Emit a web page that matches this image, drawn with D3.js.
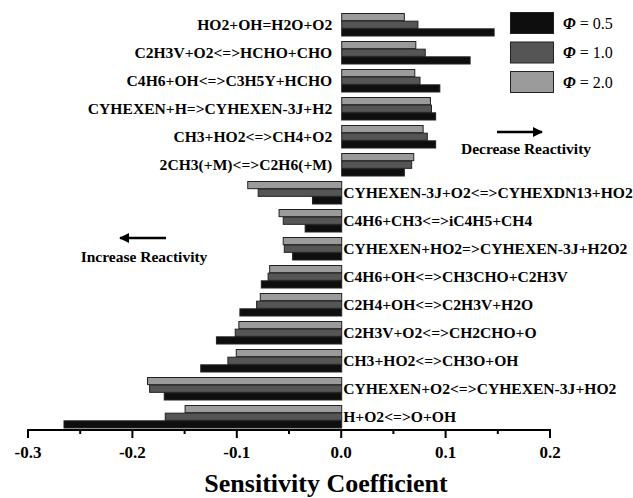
<!DOCTYPE html>
<html>
<head>
<meta charset="utf-8">
<script src="https://cdn.jsdelivr.net/npm/d3@7"></script>
<style>
  body{margin:0;background:#fff}
  svg{display:block}
  text{font-family:"Liberation Serif","Times New Roman",serif}
</style>
</head>
<body>
<svg id="chart" width="633" height="498"></svg>
<script>
// reactions, top to bottom
const reactions = [
  'HO2+OH=H2O+O2',
  'C2H3V+O2<=>HCHO+CHO',
  'C4H6+OH<=>C3H5Y+HCHO',
  'CYHEXEN+H=>CYHEXEN-3J+H2',
  'CH3+HO2<=>CH4+O2',
  '2CH3(+M)<=>C2H6(+M)',
  'CYHEXEN-3J+O2<=>CYHEXDN13+HO2',
  'C4H6+CH3<=>iC4H5+CH4',
  'CYHEXEN+HO2=>CYHEXEN-3J+H2O2',
  'C4H6+OH<=>CH3CHO+C2H3V',
  'C2H4+OH<=>C2H3V+H2O',
  'C2H3V+O2<=>CH2CHO+O',
  'CH3+HO2<=>CH3O+OH',
  'CYHEXEN+O2<=>CYHEXEN-3J+HO2',
  'H+O2<=>O+OH',
];
const phi05 = [0.146, 0.123, 0.094, 0.090, 0.090, 0.060, -0.028, -0.035, -0.047, -0.077, -0.0975, -0.120, -0.135, -0.170, -0.266];
const phi10 = [0.073, 0.080, 0.075, 0.086, 0.082, 0.067, -0.080, -0.056, -0.055, -0.0705, -0.0815, -0.102, -0.109, -0.184, -0.169];
const phi20 = [0.060, 0.071, 0.070, 0.085, 0.078, 0.069, -0.090, -0.060, -0.056, -0.069, -0.078, -0.0985, -0.101, -0.186, -0.150];
const seriesNames = ['0.5', '1.0', '2.0'];
const xTicks = [-0.3, -0.2, -0.1, 0.0, 0.1, 0.2];

const series = [
  { name: '2.0', values: phi20, fill: '#9b9b9b' },
  { name: '1.0', values: phi10, fill: '#555555' },
  { name: '0.5', values: phi05, fill: '#0e0e0e' },
];
const legendColors = { '0.5': '#0e0e0e', '1.0': '#555555', '2.0': '#9b9b9b' };

const svg = d3.select('#chart');
const axisY = 430;

const x = d3.scaleLinear().domain([-0.3, 0.2]).range([28, 550]);
const y = d3.scaleBand().domain(reactions).range([13, 428]).paddingInner(5 / 28).paddingOuter(0);
const ySub = d3.scaleBand().domain(series.map(s => s.name)).range([0, y.bandwidth()]);

// bars
const groups = svg.append('g').selectAll('g').data(reactions).enter().append('g')
  .attr('transform', d => `translate(0,${y(d)})`);

groups.each(function (r, i) {
  const gg = d3.select(this);
  series.forEach(s => {
    const v = s.values[i];
    gg.append('rect')
      .attr('x', Math.min(x(0), x(v)) + 0.5)
      .attr('y', ySub(s.name) + 0.5)
      .attr('width', Math.abs(x(v) - x(0)))
      .attr('height', ySub.bandwidth() - 0.5)
      .attr('fill', s.fill)
      .attr('stroke', '#222')
      .attr('stroke-width', 1);
  });
  // label: left of zero for positive, right of zero for negative
  const pos = phi05[i] > 0;
  gg.append('text')
    .attr('x', pos ? x(0) - 9 : x(0) + 2)
    .attr('y', y.bandwidth() / 2)
    .attr('dy', '0.35em')
    .attr('text-anchor', pos ? 'end' : 'start')
    .style('font-size', '15.6px').style('font-weight', 'bold')
    .text(r);
});

// x axis
const ax = svg.append('g');
ax.append('line')
  .attr('x1', x(-0.3)).attr('x2', x(0.2))
  .attr('y1', axisY).attr('y2', axisY)
  .attr('stroke', '#000').attr('stroke-width', 2);
d3.range(-0.3, 0.2001, 0.05).forEach(t => {
  const major = Math.abs(Math.round(t * 10) - t * 10) < 1e-6;
  ax.append('line')
    .attr('x1', x(t)).attr('x2', x(t))
    .attr('y1', axisY - 1).attr('y2', axisY + (major ? 8 : 4))
    .attr('stroke', '#000').attr('stroke-width', 2);
});
ax.selectAll('.tl').data(xTicks).enter().append('text')
  .attr('x', d => x(d)).attr('y', 458)
  .attr('text-anchor', 'middle')
  .style('font-size', '17px').style('font-weight', 'bold')
  .text(d => d.toFixed(1));

svg.append('text')
  .attr('x', 326).attr('y', 492)
  .attr('text-anchor', 'middle')
  .style('font-size', '26px').style('font-weight', 'bold')
  .text('Sensitivity Coefficient');

// arrows
const defs = svg.append('defs');
defs.append('marker').attr('id', 'head')
  .attr('viewBox', '0 0 10 10').attr('refX', 9).attr('refY', 5)
  .attr('markerWidth', 5).attr('markerHeight', 4).attr('markerUnits', 'strokeWidth')
  .attr('orient', 'auto')
  .append('path').attr('d', 'M0,0L10,5L0,10Z').attr('fill', '#000');

svg.append('line')
  .attr('x1', 497).attr('x2', 542).attr('y1', 132).attr('y2', 132)
  .attr('stroke', '#000').attr('stroke-width', 2.5).attr('marker-end', 'url(#head)');
svg.append('text')
  .attr('x', 526).attr('y', 154).attr('text-anchor', 'middle')
  .style('font-size', '15.5px').style('font-weight', 'bold')
  .text('Decrease Reactivity');

svg.append('line')
  .attr('x1', 166).attr('x2', 120).attr('y1', 238).attr('y2', 238)
  .attr('stroke', '#000').attr('stroke-width', 2.5).attr('marker-end', 'url(#head)');
svg.append('text')
  .attr('x', 144).attr('y', 262).attr('text-anchor', 'middle')
  .style('font-size', '15.5px').style('font-weight', 'bold')
  .text('Increase Reactivity');

// legend
const lg = svg.append('g').attr('transform', 'translate(510,12)');
seriesNames.forEach((n, i) => {
  const row = lg.append('g').attr('transform', `translate(0,${i * 29.5})`);
  row.append('rect')
    .attr('x', 0.5).attr('y', 0.5).attr('width', 43).attr('height', 21)
    .attr('fill', legendColors[n]).attr('stroke', '#222').attr('stroke-width', 1);
  const t = row.append('text').attr('x', 53).attr('y', 11).attr('dy', '0.35em')
    .style('font-size', '16px');
  t.append('tspan').style('font-style', 'italic').style('font-weight', 'bold').text('Φ');
  t.append('tspan').text(' = ' + n);
});
</script>
</body>
</html>
